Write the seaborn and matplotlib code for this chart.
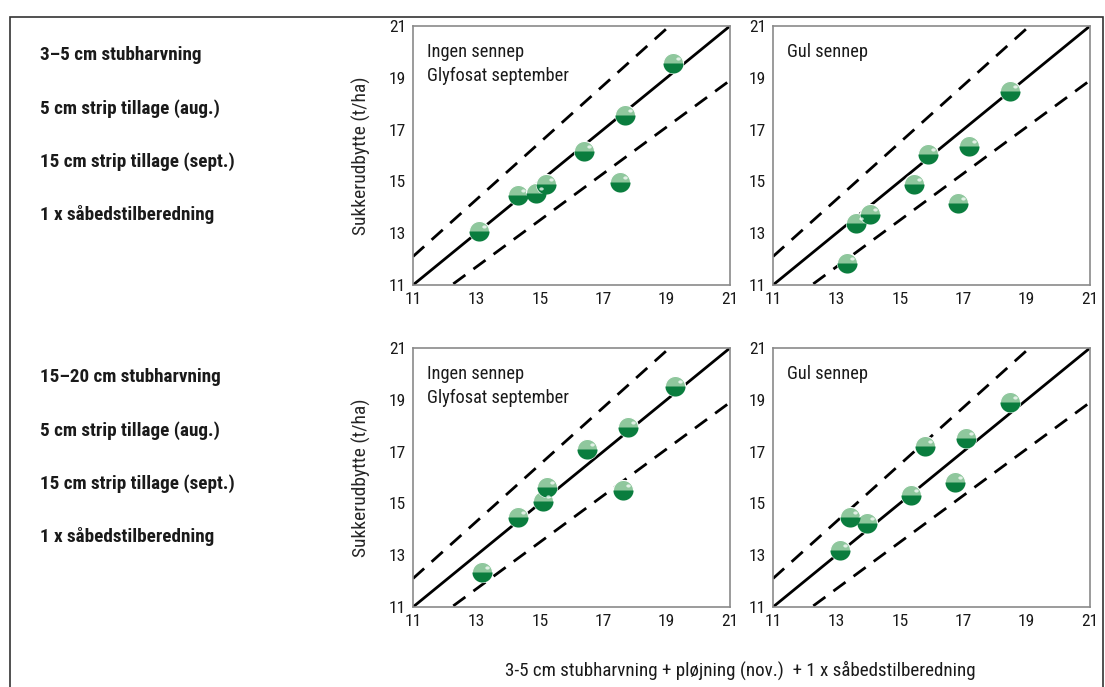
import numpy as np
import pandas as pd
import matplotlib
matplotlib.use("Agg")
import matplotlib.pyplot as plt
from matplotlib.markers import MarkerStyle
from matplotlib.patches import Rectangle
from matplotlib.path import Path
import seaborn as sns

# data (x: reference system, y: alternative system)
tl_x = [13.08, 14.31, 14.89, 15.18, 16.40, 17.69, 17.52, 19.19]
tl_y = [13.10, 14.47, 14.56, 14.89, 16.17, 17.55, 14.99, 19.56]
tr_x = [13.35, 13.62, 14.05, 15.45, 15.89, 16.84, 17.18, 18.48]
tr_y = [11.84, 13.41, 13.73, 14.90, 16.06, 14.17, 16.38, 18.50]
bl_x = [13.17, 14.31, 15.10, 15.24, 16.49, 17.61, 17.78, 19.25]
bl_y = [12.34, 14.49, 15.09, 15.64, 17.11, 15.52, 17.96, 19.54]
br_x = [13.10, 13.44, 13.97, 15.36, 15.80, 16.75, 17.10, 18.48]
br_y = [13.20, 14.46, 14.25, 15.32, 17.22, 15.84, 17.54, 18.90]

panel_titles = ["Ingen sennep\nGlyfosat september", "Gul sennep"]
row_labels = [
    ["3–5 cm stubharvning", "5 cm strip tillage (aug.)",
     "15 cm strip tillage (sept.)", "1 x såbedstilberedning"],
    ["15–20 cm stubharvning", "5 cm strip tillage (aug.)",
     "15 cm strip tillage (sept.)", "1 x såbedstilberedning"],
]
ticks = [11, 13, 15, 17, 19, 21]
ref_x = [11, 21]
ratios = [1.0, 1.1, 0.9]  # 1:1 line and +/-10 %

ylabel = "Sukkerudbytte (t/ha)"
xlabel = "3-5 cm stubharvning + pløjning (nov.)  + 1 x såbedstilberedning"

sns.set_style("white")
plt.rcParams["font.family"] = ["Roboto Condensed", "DejaVu Sans"]
plt.rcParams["text.color"] = "#1a1a1a"

light_green = "#8fc79d"
dark_green = "#0a7d3e"
MS = 210  # marker area

# small glossy highlight in the upper right of each ball
# (the two move-to points only fix the marker's scale to the unit circle)
t = np.linspace(0, 2 * np.pi, 30)
hl_verts = np.column_stack([0.5 + 0.22 * np.cos(t), 0.45 + 0.16 * np.sin(t)])
hl_verts = np.vstack([[[-1, 0]], [[1, 0]], hl_verts])
hl_codes = [Path.MOVETO, Path.MOVETO, Path.MOVETO] + [Path.LINETO] * (len(t) - 2) + [Path.CLOSEPOLY]
highlight = MarkerStyle(Path(hl_verts, hl_codes))

fig = plt.figure(figsize=(11.05, 6.87), dpi=100)
W, H = 1105, 687

# outer frame
fig.patches.append(Rectangle((10 / W, -0.01), 1093 / W, 1 - 17 / H + 0.01,
                             transform=fig.transFigure, fill=False,
                             edgecolor="#333333", linewidth=1.2))

boxes = {
    (0, 0): (413, 26, 730, 285),
    (0, 1): (773, 26, 1090, 285),
    (1, 0): (413, 348, 730, 607),
    (1, 1): (773, 348, 1090, 607),
}
panel_data = {
    (0, 0): (tl_x, tl_y),
    (0, 1): (tr_x, tr_y),
    (1, 0): (bl_x, bl_y),
    (1, 1): (br_x, br_y),
}

for (r, c), (x0, y0, x1, y1) in boxes.items():
    ax = fig.add_axes([x0 / W, 1 - y1 / H, (x1 - x0) / W, (y1 - y0) / H])
    ax.set_xlim(11, 21)
    ax.set_ylim(11, 21)

    for k in ratios:
        ln = pd.DataFrame({"x": ref_x, "y": [v * k for v in ref_x]})
        sns.lineplot(data=ln, x="x", y="y", ax=ax, color="black", lw=2,
                     linestyle="-" if k == 1.0 else (0, (5.4, 3.6)), zorder=2)

    xs, ys = panel_data[(r, c)]
    df = pd.DataFrame({"x": xs, "y": ys})
    sns.scatterplot(data=df, x="x", y="y", ax=ax, s=MS, color=light_green,
                    edgecolor="white", linewidth=0.8, zorder=3)
    sns.scatterplot(data=df, x="x", y="y", ax=ax, s=MS,
                    marker=MarkerStyle("o", fillstyle="bottom"),
                    color=dark_green, linewidth=0, zorder=4)
    sns.scatterplot(data=df, x="x", y="y", ax=ax, s=MS, marker=highlight,
                    color="white", alpha=0.75, linewidth=0, zorder=5)

    ax.set_xticks(ticks)
    ax.set_yticks(ticks)
    ax.tick_params(axis="both", labelsize=12.5, length=3, color="#888888",
                   direction="out", pad=2, labelcolor="#1a1a1a")
    for sp in ax.spines.values():
        sp.set_color("#8a8a8a")
        sp.set_linewidth(1.2)
    ax.set_xlabel("")
    ax.set_ylabel(ylabel if c == 0 else "", fontsize=14, labelpad=13)

    ax.text(0.045, 0.935, panel_titles[c], transform=ax.transAxes,
            fontsize=13.2, va="top", ha="left", linespacing=1.45)

# left side treatment labels
for r, labels in enumerate(row_labels):
    base = 55 if r == 0 else 377
    for i, lab in enumerate(labels):
        fig.text(40 / W, 1 - (base + i * 53.3) / H, lab, fontsize=13.8,
                 fontweight="bold", ha="left", va="center")

fig.text(740 / W, 1 - 670 / H, xlabel, fontsize=13.7, ha="center", va="center")

fig.savefig("out.png", dpi=100)
